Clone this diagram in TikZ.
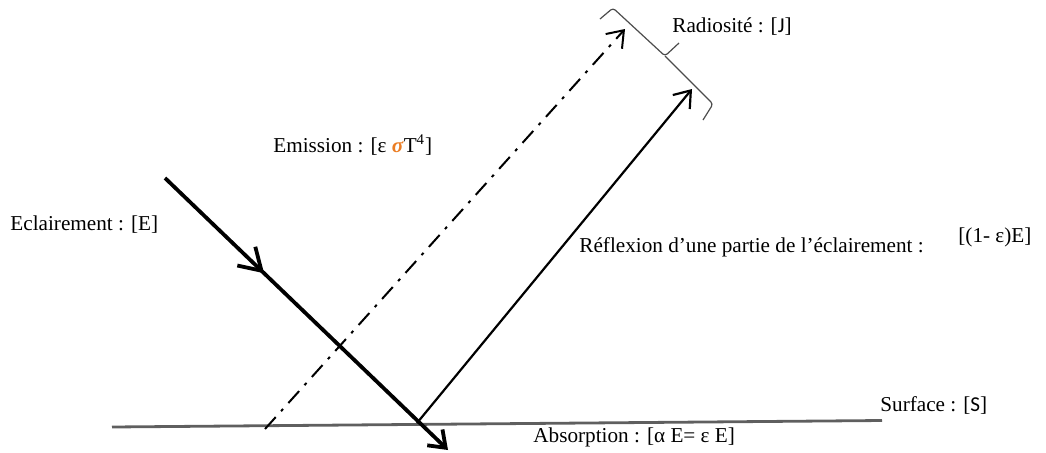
\documentclass[tikz,border=0pt]{standalone}
\usepackage{fontspec}
\setmainfont{Liberation Serif}
\newfontfamily\calfont{Carlito}
\usetikzlibrary{arrows.meta,decorations.markings}
\definecolor{sigmaorange}{RGB}{235,125,35}
\definecolor{surfgray}{RGB}{95,95,95}
\begin{document}
\begin{tikzpicture}[
    x=0.5pt, y=-0.5pt,
    lbl/.style={anchor=west, inner sep=0pt, font=\fontsize{10.6}{12}\selectfont},
    barb/.style={-{Straight Barb[length=7.5pt,width=11pt]}},
    incident/.style={barb, line width=1.9pt, postaction={decorate},
        decoration={markings, mark=at position 0.35 with {\arrow{Straight Barb[length=10.5pt,width=13pt]}}}},
    reflected/.style={barb, line width=1.1pt},
    emitted/.style={barb, line width=1pt, dash pattern=on 8pt off 4pt on 1.5pt off 4pt},
    surf/.style={surfgray, line width=1.4pt},
    radbrace/.style={draw=black!70, line width=0.6pt, rounded corners=1.5pt}
]
\useasboundingbox (0,0) rectangle (1046,452);

\coordinate (surfL) at (112,427);
\coordinate (surfR) at (882,420.5);
\coordinate (inStart) at (165,178);
\coordinate (inEnd) at (448,450);
\coordinate (hit) at (417,423);
\coordinate (refEnd) at (692,89);
\coordinate (emStart) at (265,429);
\coordinate (emEnd) at (625,29);
\coordinate (braceTop) at (600,19);
\coordinate (braceC1) at (613,8);
\coordinate (braceMid) at (665,56);
\coordinate (braceTip) at (679,43);
\coordinate (braceC2) at (713,104);
\coordinate (braceBot) at (703,120);

\draw[surf] (surfL) -- (surfR);
\draw[incident] (inStart) -- (inEnd);
\draw[reflected] (hit) -- (refEnd);
\draw[emitted] (emStart) -- (emEnd);
\draw[radbrace] (braceTop) -- (braceC1) -- (braceMid) -- (braceTip);
\draw[radbrace] (braceMid) -- (braceC2) -- (braceBot);

\node[lbl] (radio) at (672,27) {Radiosité : [{\calfont J}]};
\node[lbl] (emis) at (273,145) {Emission : [ε \textcolor{sigmaorange}{\textbf{\textit{σ}}}T\textsuperscript{4}]};
\node[lbl] (eclair) at (10,225) {Eclairement : [E]};
\node[lbl] (reflex) at (579,247) {Réflexion d’une partie de l’éclairement :};
\node[lbl] (reflexval) at (958,237) {[(1- ε)E]};
\node[lbl] (surface) at (880,405) {Surface : [{\calfont S}]};
\node[lbl] (absorp) at (533,437) {Absorption : [α E= ε E]};
\end{tikzpicture}
\end{document}
